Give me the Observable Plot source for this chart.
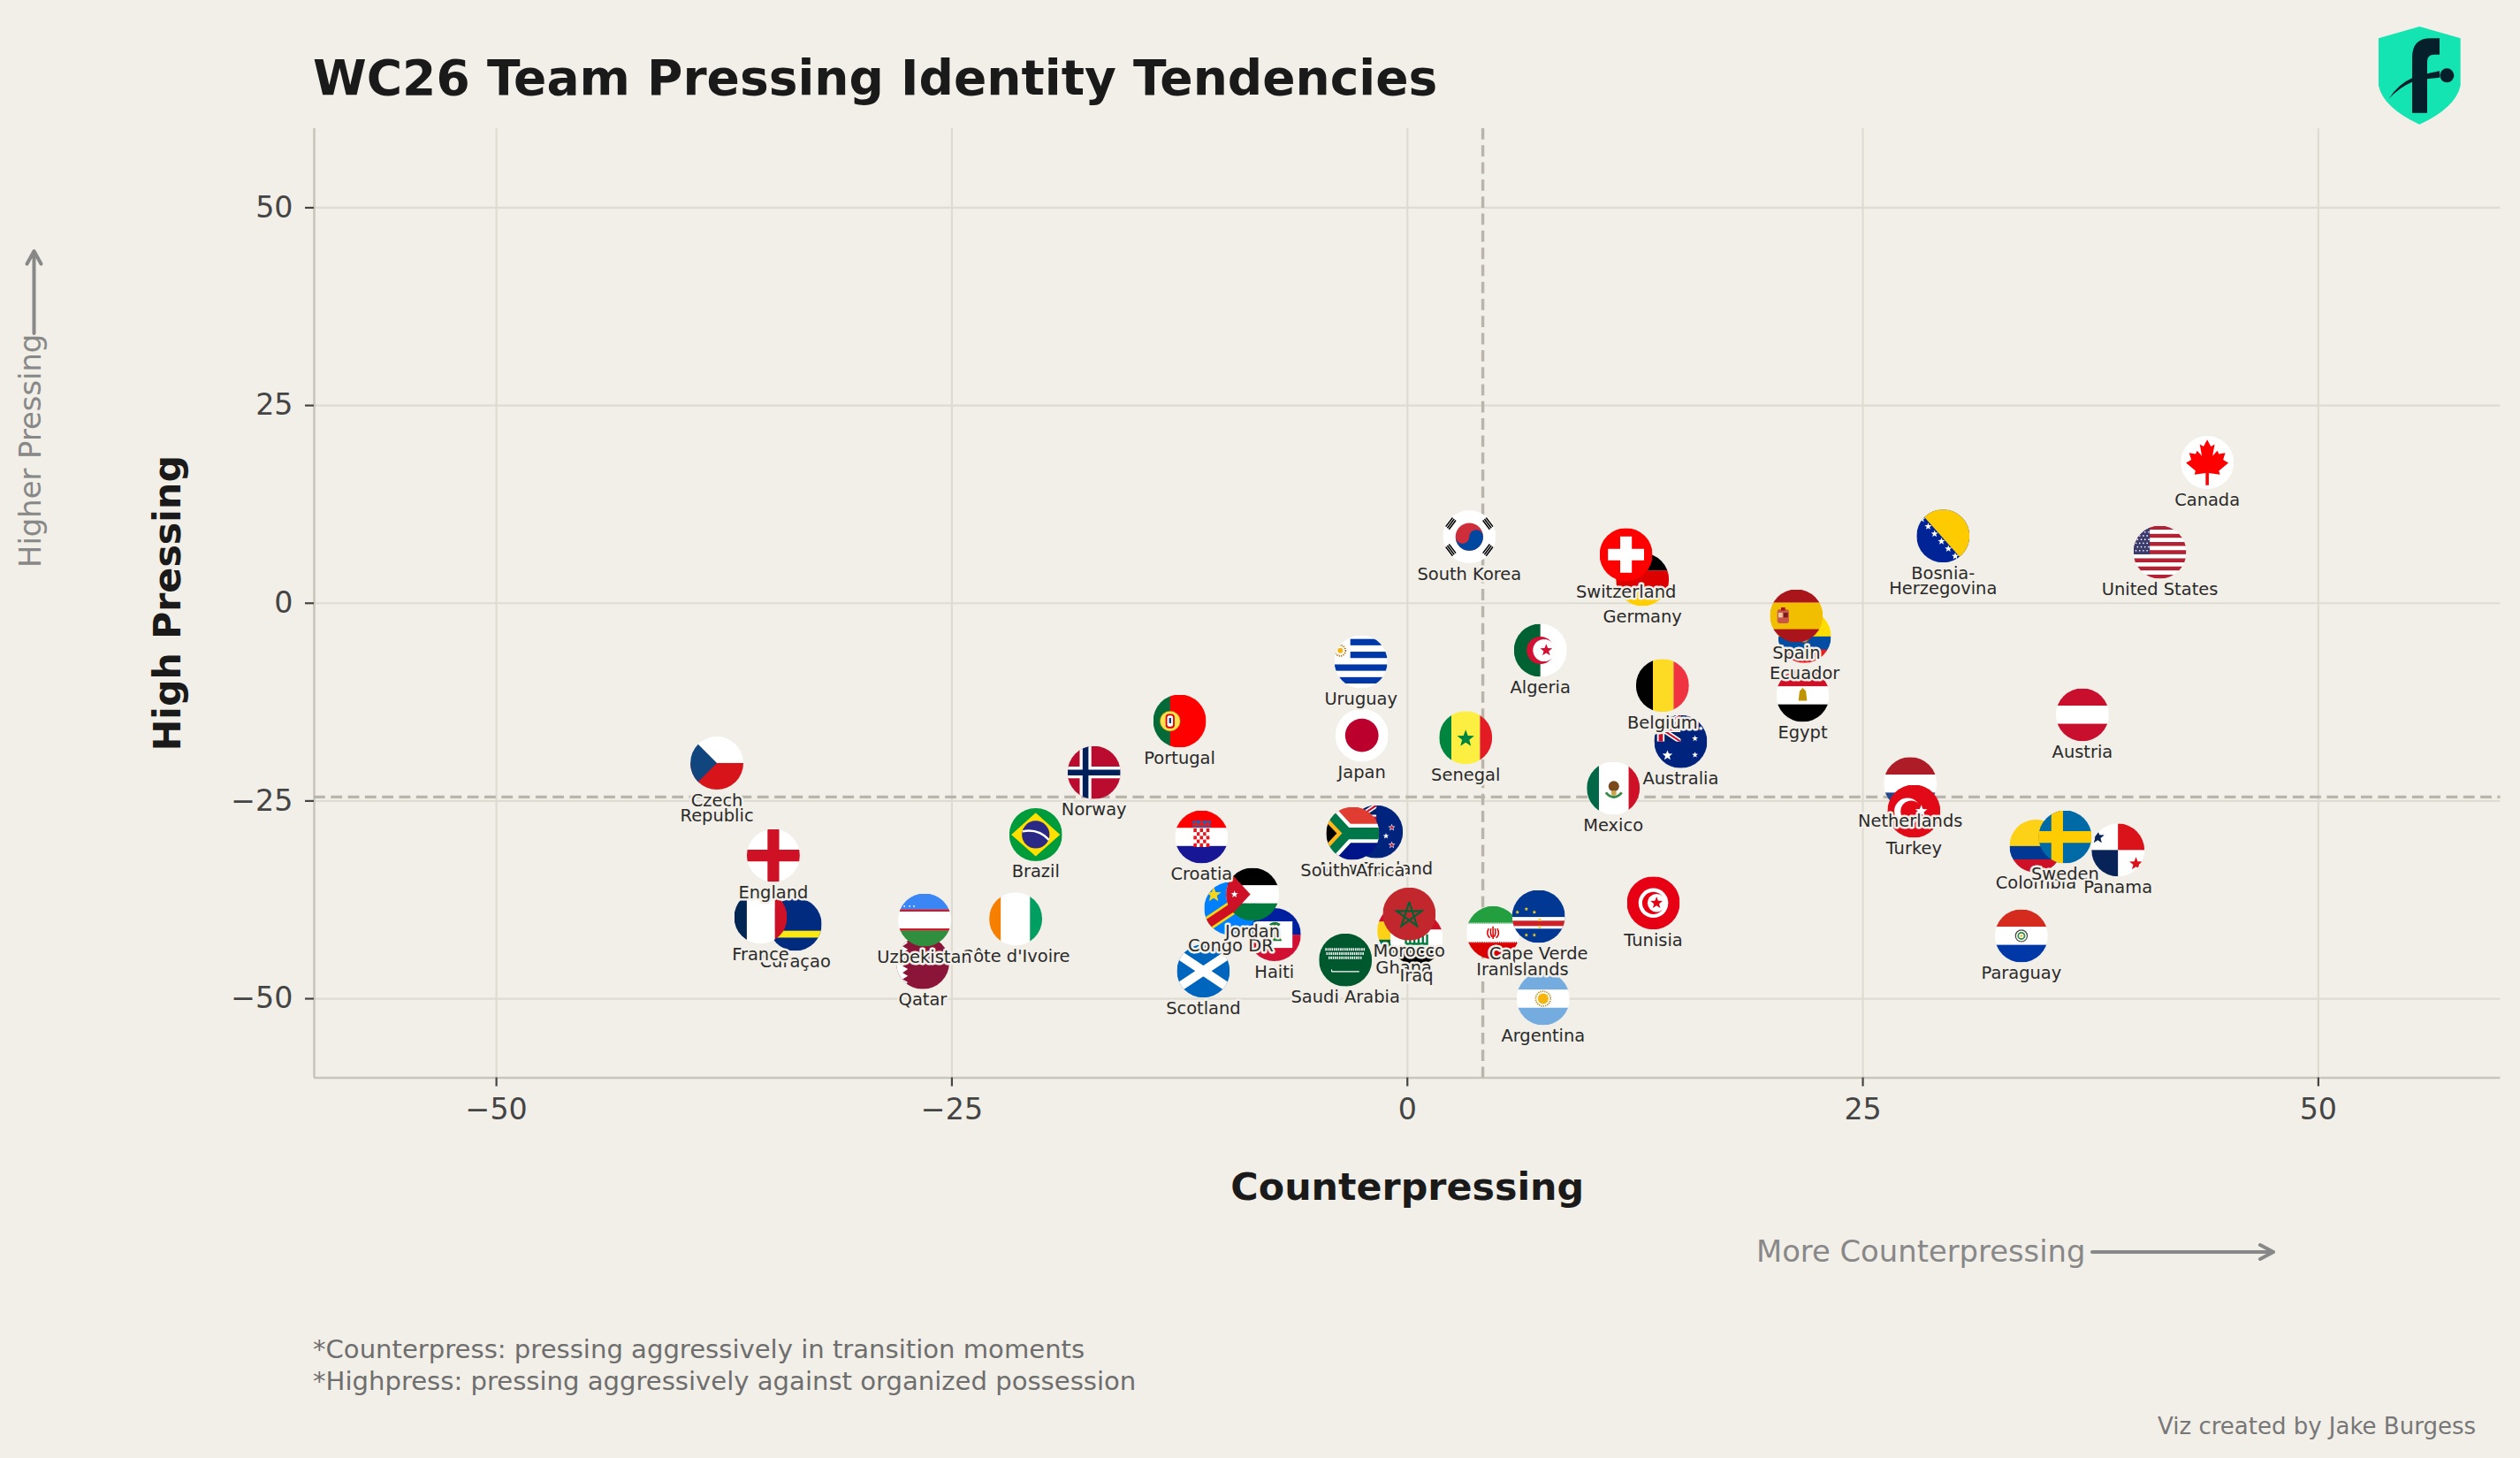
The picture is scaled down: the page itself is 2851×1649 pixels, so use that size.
<!DOCTYPE html>
<html><head><meta charset="utf-8">
<script src="https://cdn.jsdelivr.net/npm/d3@7"></script>
<script src="https://cdn.jsdelivr.net/npm/@observablehq/plot@0.6"></script>
<style>
html,body{margin:0;padding:0;background:#f2efe8;width:2851px;height:1649px;overflow:hidden;font-family:"DejaVu Sans",sans-serif}
#page{position:relative;width:2851px;height:1649px}
#page>*{position:absolute}
#chart{left:0;top:0}
.t{white-space:nowrap;line-height:1}
</style></head><body>
<div id="page">
<div id="chart"></div>
<div class="t" style="left:354px;top:61px;font-size:55.05px;font-weight:700;color:#1a1a1a">WC26 Team Pressing Identity Tendencies</div>
<div class="t" style="left:354px;top:1512px;font-size:29.1px;color:#6e6e6e">*Counterpress: pressing aggressively in transition moments</div>
<div class="t" style="left:354px;top:1548px;font-size:29.1px;color:#6e6e6e">*Highpress: pressing aggressively against organized possession</div>
<div class="t" style="right:50px;top:1600px;font-size:26px;color:#777">Viz created by Jake Burgess</div>
<div class="t" style="left:1987px;top:1399px;font-size:33.8px;color:#888">More Counterpressing</div>
<div class="t" style="left:18px;top:642px;font-size:33.8px;color:#888;transform-origin:0 0;transform:rotate(-90deg)">Higher Pressing</div>
<svg style="left:0;top:0;pointer-events:none" width="2851" height="1649" fill="none" stroke="#888" stroke-width="4" stroke-linecap="round" stroke-linejoin="round">
<path d="M38.5 377V285M30.5 298.5L38.5 284L46.5 298.5"/>
<path d="M2367 1416H2571M2557 1408L2572 1416L2557 1424"/>
</svg>
<svg style="left:2600px;top:0" width="251" height="170" viewBox="0 0 753 510">
<path d="M412 90L551 130V290Q535 365 412 422Q289 365 273 290V130Z" fill="#14e3b2"/>
<path d="M387 383V195Q387 130 450 130H480V185H462Q438 185 438 208V383Z" fill="#06202b"/>
<path d="M438 250L480 241V263L438 268Z" fill="#06202b"/>
<circle cx="505" cy="256" r="24" fill="#06202b"/>
<path d="M308 335Q340 285 387 265V278Q345 295 308 335Z" fill="#06202b"/>
</svg>
</div>
<script>
// Teams in draw order, back to front.
const teams=["Czech\nRepublic","Norway","Portugal","Japan","Senegal","Brazil","Croatia","New Zealand","South Africa","England","Curaçao","France","Côte d'Ivoire","Qatar","Uzbekistan","Haiti","Congo DR","Jordan","Scotland","Saudi Arabia","Ghana","Iraq","Morocco","Iran","Cape Verde\nIslands","Tunisia","Argentina","Mexico","Australia","Netherlands","Turkey","Colombia","Sweden","Panama","Paraguay","Austria","Canada","Bosnia-\nHerzegovina","United States","South Korea","Germany","Switzerland","Egypt","Ecuador","Spain","Algeria","Belgium","Uruguay"];
const counterpressing=[-37.9,-17.2,-12.5,-2.5,3.2,-20.4,-11.3,-1.7,-3.0,-34.8,-33.6,-35.5,-21.5,-26.6,-26.5,-7.3,-9.7,-8.5,-11.2,-3.4,-0.2,0.5,0.1,4.7,7.2,13.5,7.45,11.3,15.0,27.6,27.8,34.5,36.1,39.0,33.7,37.05,43.9,29.4,41.3,3.4,12.9,12.0,21.7,21.8,21.35,7.3,14.0,-2.55];
const highPressing=[-20.2,-21.4,-14.9,-16.7,-17.0,-29.25,-29.55,-28.9,-29.1,-31.9,-40.6,-39.7,-39.9,-45.45,-40.05,-41.9,-38.6,-36.8,-46.5,-45.1,-41.4,-42.4,-39.3,-41.65,-39.6,-37.9,-50.0,-23.4,-17.5,-22.8,-26.3,-30.7,-29.55,-31.2,-42.05,-14.1,17.8,8.5,6.45,8.4,3.0,6.15,-11.65,-4.2,-1.6,-5.95,-10.4,-7.4];
const axisTicks=[-50,-25,0,25,50];
const axisExtent=[-60,60];
const meanCounterpressing=4.14;
const meanHighPressing=-24.5;

// Small flag symbols, each on a 100×100 canvas that the image mark clips to a circle.
const star=(cx,cy,r,fill)=>{let p=[];for(let i=0;i<10;i++){const a=-Math.PI/2+i*Math.PI/5,q=i%2?r*.42:r;p.push((cx+q*Math.cos(a)).toFixed(1)+","+(cy+q*Math.sin(a)).toFixed(1));}return `<polygon points="${p.join(" ")}" fill="${fill}"/>`;};
const H=(...b)=>{let o="",y=0;for(let i=0;i<b.length;i+=2){o+=`<rect x="0" y="${y}" width="100" height="${b[i+1]-y+.3}" fill="${b[i]}"/>`;y=b[i+1];}return o;};
const V=(...b)=>{let o="",x=0;for(let i=0;i<b.length;i+=2){o+=`<rect y="0" x="${x}" height="100" width="${b[i+1]-x+.3}" fill="${b[i]}"/>`;x=b[i+1];}return o;};
const union=`<svg width="50" height="50" viewBox="25 0 50 50"><rect width="75" height="50" fill="#012169"/><path d="M0 0L75 50M75 0L0 50" stroke="#fff" stroke-width="9"/><path d="M0 0L75 50M75 0L0 50" stroke="#c8102e" stroke-width="3.5"/><path d="M37.5 0V50M0 25H75" stroke="#fff" stroke-width="14"/><path d="M37.5 0V50M0 25H75" stroke="#c8102e" stroke-width="8"/></svg>`;
const checker=(()=>{let o="";for(let r=0;r<5;r++)for(let c=0;c<5;c++)o+=`<rect x="${35+c*6}" y="${34+r*7}" width="6" height="7" fill="${(r+c)%2?"#fff":"#e8141c"}"/>`;return o;})();
const trigram=`<path d="M5.5 30.9L18.5 13.9M8.5 33.5L21.5 16.5M11.5 36.1L24.5 19.1" stroke="#000" stroke-width="2.6"/>`;
const flagArt={
"Czech\nRepublic":H("#fff",50,"#d7141a",100)+`<polygon points="0,0 50,50 0,100" fill="#11457e"/>`,
"Norway":`<rect width="100" height="100" fill="#ba0c2f"/><path d="M34 0V100M0 50H100" stroke="#fff" stroke-width="22"/><path d="M34 0V100M0 50H100" stroke="#00205b" stroke-width="11"/>`,
"Portugal":V("#046a38",32,"#f00",100)+`<circle cx="32" cy="50" r="19" fill="#ffe14d" stroke="#9a7d10"/><rect x="25" y="38" width="14" height="24" rx="5" fill="#fff" stroke="#d00" stroke-width="3"/><rect x="30" y="44" width="4" height="10" fill="#1b3a8a"/>`,
"Japan":`<rect width="100" height="100" fill="#fff"/><circle cx="50" cy="50" r="31.5" fill="#bc002d"/>`,
"Senegal":V("#00853f",23,"#fdef42",77,"#e31b23",100)+star(50,52,17,"#00853f"),
"Brazil":`<rect width="100" height="100" fill="#009b3a"/><polygon points="50,9 96,50 50,91 4,50" fill="#fedf00"/><circle cx="50" cy="50" r="26" fill="#2a2a86"/><path d="M25 44Q55 38 75 60" stroke="#fff" stroke-width="4" fill="none"/>`,
"Croatia":H("#f00",33,"#fff",67,"#171796",100)+`<rect x="33" y="19" width="34" height="13" fill="#2a5db0"/><path d="M33 30l6-11 5 9 6-11 6 11 5-9 6 11z" fill="#d22"/>`+checker,
"New Zealand":`<rect width="100" height="100" fill="#00247d"/>`+union+star(79,42,7,"#fff")+star(79,42,4.5,"#cc142b")+star(68,58,6,"#fff")+star(79,75,7,"#fff")+star(79,75,4.5,"#cc142b"),
"South Africa":H("#e03c31",50,"#001489",100)+`<path d="M-8 0L38 50L-8 100M38 50H100" fill="none" stroke="#fff" stroke-width="36"/><path d="M-8 0L38 50L-8 100M38 50H100" fill="none" stroke="#007749" stroke-width="22"/><polygon points="0,18 30,50 0,82" fill="#ffb81c"/><polygon points="0,29 20,50 0,71" fill="#000"/>`,
"England":`<rect width="100" height="100" fill="#fff"/><path d="M50 0V100M0 50H100" stroke="#ce1124" stroke-width="22"/>`,
"Curaçao":`<rect width="100" height="100" fill="#002b7f"/><rect y="62" width="100" height="13" fill="#f9e814"/>`,
"France":V("#002654",24,"#fff",77,"#ce1126",100),
"Côte d'Ivoire":V("#f77f00",22,"#fff",77,"#009e60",100),
"Qatar":`<rect width="100" height="100" fill="#8a1538"/><polygon points="0,0 22,0 12,6 22,12 12,19 22,25 12,31 22,37 12,44 22,50 12,56 22,62 12,69 22,75 12,81 22,87 12,94 22,100 0,100" fill="#fff"/>`,
"Uzbekistan":H("#3a86f5",30,"#ce1126",34,"#fff",66,"#ce1126",70,"#2f8f3f",100)+`<circle cx="12" cy="24" r="1.5" fill="#fff"/><circle cx="22" cy="24" r="1.5" fill="#fff"/><circle cx="30" cy="24" r="1.5" fill="#fff"/>`,
"Haiti":H("#00209f",50,"#d21034",100)+`<rect x="16" y="25" width="68" height="50" fill="#fff"/><path d="M38 62H64L58 48H44Z" fill="#1b7a3a"/><rect x="49" y="30" width="3" height="22" fill="#7a4a12"/><path d="M42 32Q50 25 60 32" stroke="#1b7a3a" stroke-width="5" fill="none"/>`,
"Congo DR":`<rect width="100" height="100" fill="#007fff"/><path d="M-25 100L125 0" stroke="#f7d618" stroke-width="26"/><path d="M-25 100L125 0" stroke="#ce1021" stroke-width="17"/>`+star(18,24,15,"#f7d618"),
"Jordan":H("#000",33,"#fff",67,"#007a3d",100)+`<polygon points="0,0 46,50 0,100" fill="#ce1126"/>`+star(16,50,7,"#fff"),
"Scotland":`<rect width="100" height="100" fill="#0065bd"/><path d="M-25 0L125 100M125 0L-25 100" stroke="#fff" stroke-width="17"/>`,
"Saudi Arabia":`<rect width="100" height="100" fill="#00592e"/><path d="M12 30H88M14 38H86M18 46H82" stroke="#fff" stroke-width="5" stroke-dasharray="2.5 1.5"/><path d="M24 72H76M24 72V68" stroke="#fff" stroke-width="2"/>`,
"Ghana":H("#ce1126",33,"#fcd116",67,"#006b3f",100)+star(50,50,15,"#000"),
"Iraq":H("#ce1126",33,"#fff",67,"#000",100)+`<path d="M30 60V44M38 60V42M46 60V44M54 60V42M62 60V44M70 60V42M30 60H72" stroke="#007a3d" stroke-width="4"/>`,
"Morocco":`<rect width="100" height="100" fill="#c1272d"/><path d="${d3.range(6).map(i=>{const a=-Math.PI/2+i*4*Math.PI/5;return (i?"L":"M")+(50+25*Math.cos(a)).toFixed(1)+" "+(52+25*Math.sin(a)).toFixed(1);}).join("")}" fill="none" stroke="#006233" stroke-width="3.5"/>`,
"Iran":H("#239f40",33,"#fff",67,"#da0000",100)+`<path d="M0 32H100M0 34.5H100" stroke="#fff" stroke-width="1.8" stroke-dasharray="2 1.5"/><path d="M0 65.5H100M0 68H100" stroke="#fff" stroke-width="1.8" stroke-dasharray="2 1.5"/><path d="M50 38V62M42 42Q36 52 44 60M58 42Q64 52 56 60M46 42Q44 52 48 58M54 42Q56 52 52 58" stroke="#da0000" stroke-width="2.5" fill="none"/>`,
"Cape Verde\nIslands":`<rect width="100" height="100" fill="#003893"/><rect y="51" width="100" height="22" fill="#fff"/><rect y="58" width="100" height="10" fill="#cf2027"/>`+[[10,42],[27,36],[42,42],[52,56],[52,70],[42,85],[27,85],[10,85]].map(p=>star(p[0],p[1],4,"#f7d116")).join(""),
"Tunisia":`<rect width="100" height="100" fill="#e70013"/><circle cx="50" cy="50" r="28" fill="#fff"/><circle cx="50" cy="50" r="21" fill="#e70013"/><circle cx="56" cy="50" r="17" fill="#fff"/>`+star(56,50,12,"#e70013"),
"Argentina":H("#74acdf",33,"#fff",67,"#74acdf",100)+`<circle cx="50" cy="50" r="10" fill="#f6b40e"/><circle cx="50" cy="50" r="14" fill="none" stroke="#b8860b" stroke-width="3" stroke-dasharray="2 2"/>`,
"Mexico":V("#006847",23,"#fff",79,"#ce1126",100)+`<circle cx="51" cy="46" r="10" fill="#7a4a1c"/><path d="M36 58Q51 75 66 58" stroke="#3a8a4a" stroke-width="5" fill="none"/><circle cx="51" cy="59" r="5" fill="#c9a64c"/>`,
"Australia":`<rect width="100" height="100" fill="#00247d"/>`+union+star(77,44,6,"#fff")+star(68,25,5,"#fff")+star(88,25,5,"#fff")+star(77,75,6,"#fff")+star(25,76,10,"#fff"),
"Netherlands":H("#ae1c28",33,"#fff",67,"#21468b",100),
"Turkey":`<rect width="100" height="100" fill="#e30a17"/><circle cx="38" cy="50" r="25" fill="#fff"/><circle cx="45" cy="50" r="20" fill="#e30a17"/>`+star(64,50,12,"#fff"),
"Colombia":H("#fcd116",50,"#003893",75,"#ce1126",100),
"Sweden":`<rect width="100" height="100" fill="#006aa7"/><path d="M35 0V100M0 50H100" stroke="#fecc00" stroke-width="22"/>`,
"Panama":`<rect width="100" height="100" fill="#fff"/><rect x="50" width="50" height="50" fill="#da121a"/><rect y="50" width="50" height="50" fill="#072357"/>`+star(12,26,13,"#072357")+star(84,76,13,"#da121a"),
"Paraguay":H("#d52b1e",33,"#fff",67,"#0038a8",100)+`<circle cx="50" cy="50" r="11" fill="none" stroke="#444" stroke-width="2"/><circle cx="50" cy="50" r="6" fill="none" stroke="#2f8f3f" stroke-width="3"/><circle cx="50" cy="50" r="2" fill="#e6b800"/>`,
"Austria":H("#c8102e",33,"#fff",67,"#c8102e",100),
"Canada":`<rect width="100" height="100" fill="#fff"/><path d="M50 7L57 20L64 16L60 38L69 28L72 34L84 32L80 45L90 51L72 66L74 73L53 70L53 93L47 93L47 70L26 73L28 66L10 51L20 45L16 32L28 34L31 28L40 38L36 16L43 20Z" fill="#f00"/>`,
"Bosnia-\nHerzegovina":`<rect width="100" height="100" fill="#002395"/><polygon points="2,0 100,0 100,100 91,100" fill="#fecb00"/>`+[[10,18],[22,32],[34,46],[47,60],[60,74],[73,88]].map(p=>star(p[0],p[1],7,"#fff")).join(""),
"United States":d3.range(13).map(i=>`<rect y="${i*100/13}" width="100" height="${100/13+.2}" fill="${i%2?"#fff":"#b22234"}"/>`).join("")+`<rect width="31" height="54" fill="#3c3b6e"/>`+d3.range(7).map(r=>d3.range(4).map(c=>`<circle cx="${5+c*7+(r%2)*3}" cy="${5+r*7}" r="1.4" fill="#fff"/>`).join("")).join(""),
"South Korea":`<rect width="100" height="100" fill="#fff"/><circle cx="50" cy="50" r="26" fill="#cd2e3a"/><path d="M24 50A26 26 0 0 0 76 50A13 13 0 0 0 50 50A13 13 0 0 1 24 50Z" fill="#0047a0"/>`+trigram+`<g transform="translate(100 0) scale(-1 1)">${trigram}</g><g transform="translate(0 100) scale(1 -1)">${trigram}</g><g transform="translate(100 100) scale(-1 -1)">${trigram}</g>`,
"Germany":H("#000",33,"#dd0000",67,"#ffce00",100),
"Switzerland":`<rect width="100" height="100" fill="#f00"/><path d="M50 16V84M16 50H84" stroke="#fff" stroke-width="22"/>`,
"Egypt":H("#ce1126",33,"#fff",67,"#000",100)+`<path d="M50 36L56 42L58 60H42L44 42Z" fill="#c09300"/>`,
"Ecuador":H("#ffdd00",50,"#034ea2",75,"#ed1c24",100)+`<ellipse cx="50" cy="50" rx="9" ry="12" fill="#8aa0b8" stroke="#7a4a1c" stroke-width="2"/>`,
"Spain":H("#aa151b",25,"#f1bf00",75,"#aa151b",100)+`<rect x="14" y="38" width="22" height="26" rx="4" fill="#c8574a"/><rect x="21" y="34" width="8" height="6" fill="#aa151b"/><rect x="16" y="44" width="8" height="9" fill="#e8c9a0"/><rect x="26" y="44" width="8" height="9" fill="#7a1c1c"/>`,
"Algeria":V("#006233",50,"#fff",100)+`<circle cx="50" cy="50" r="26" fill="#d21034"/><circle cx="57" cy="50" r="21" fill="#fff"/>`+star(61,50,12,"#d21034"),
"Belgium":V("#000",32,"#fdda24",71,"#ef3340",100),
"Uruguay":`<rect width="100" height="100" fill="#fff"/>`+[[30,7],[30,31],[0,55],[0,79]].map(p=>`<rect x="${p[0]}" y="${p[1]}" width="100" height="12" fill="#0038a8"/>`).join("")+`<circle cx="11" cy="29" r="5" fill="#f6b40e"/><circle cx="11" cy="29" r="10" fill="none" stroke="#b36b00" stroke-width="3" stroke-dasharray="2 2"/>`
};
const flagSrc=name=>"data:image/svg+xml,"+encodeURIComponent(`<svg xmlns="http://www.w3.org/2000/svg" viewBox="0 0 100 100" width="240" height="240">${flagArt[name]}</svg>`);

const rows=teams.map((team,i)=>({team,x:counterpressing[i],y:highPressing[i],src:flagSrc(team)}));

const gridColor="#dedbd2",spineColor="#c8c5ba",dashColor="#b9b5aa",bg="#f2efe8";
const chart=Plot.plot({
  width:2851,height:1649,
  marginTop:145,marginBottom:430.5,marginLeft:355,marginRight:22.5,
  style:{background:"transparent",fontFamily:"DejaVu Sans",overflow:"visible"},
  x:{domain:axisExtent},y:{domain:axisExtent},
  marks:[
    Plot.gridX(axisTicks,{stroke:gridColor,strokeOpacity:1,strokeWidth:2.2}),
    Plot.gridY(axisTicks,{stroke:gridColor,strokeOpacity:1,strokeWidth:2.2}),
    Plot.ruleX([axisExtent[0]],{stroke:spineColor,strokeWidth:2.6}),
    Plot.ruleY([axisExtent[0]],{stroke:spineColor,strokeWidth:2.6}),
    Plot.ruleX([meanCounterpressing],{stroke:dashColor,strokeWidth:3.4,strokeDasharray:"12.8 6.5"}),
    Plot.ruleY([meanHighPressing],{stroke:dashColor,strokeWidth:3.4,strokeDasharray:"12.8 6.5"}),
    Plot.axisX({ticks:axisTicks,label:null,tickSize:10,tickPadding:13,fontSize:33.3,color:"#444",strokeWidth:2.2}),
    Plot.axisY({ticks:axisTicks,label:null,tickSize:10,tickPadding:14,fontSize:33.3,color:"#444",strokeWidth:2.2}),
    Plot.image(rows,{x:"x",y:"y",src:"src",r:30,preserveAspectRatio:"xMidYMid slice"}),
    Plot.text(rows,{x:"x",y:"y",text:"team",dy:36,lineAnchor:"top",lineHeight:.91,fontSize:19.44,fill:"#2a2a2a",stroke:bg,strokeWidth:5}),
    Plot.text(["Counterpressing"],{frameAnchor:"bottom",dy:124,lineAnchor:"middle",fontSize:42.8,fontWeight:700,fill:"#1a1a1a"}),
    Plot.text(["High Pressing"],{frameAnchor:"left",textAnchor:"middle",dx:-165,rotate:-90,lineAnchor:"middle",fontSize:42.8,fontWeight:700,fill:"#1a1a1a"})
  ]
});
document.getElementById("chart").appendChild(chart);
</script>
</body></html>
